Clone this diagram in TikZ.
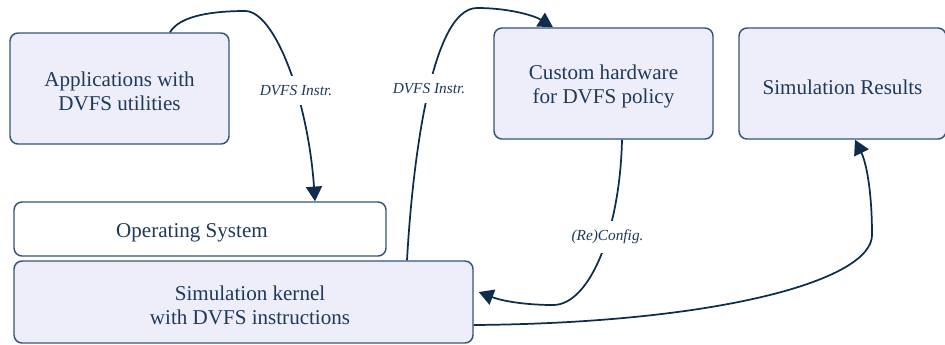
\documentclass[tikz,border=0pt]{standalone}
\usepackage{fontspec}
\setmainfont{Liberation Serif}
\usetikzlibrary{arrows.meta}
\definecolor{boxfill}{HTML}{EEEEFB}
\definecolor{boxdraw}{HTML}{345578}
\definecolor{txt}{HTML}{1E3A5A}
\definecolor{arr}{HTML}{0E2C4C}
\begin{document}
\begin{tikzpicture}[x=0.75pt,y=-0.75pt,
 box/.style={draw=boxdraw, line width=1.1pt, fill=boxfill, rounded corners=6pt, inner sep=0pt},
 plainbox/.style={box, fill=white},
 boxtext/.style={align=center, text=txt, inner sep=0pt, yshift=-2.5pt, font=\fontsize{15.8}{18}\selectfont},
 conn/.style={draw=arr, line width=1.3pt, -{Triangle[length=11pt,width=12pt]}},
 lbl/.style={fill=white, text=txt, font=\fontsize{11.5}{13}\selectfont\itshape, inner xsep=2pt, inner ysep=7pt}]
\useasboundingbox (0,0) rectangle (945,344);
\node[box, minimum width=164.25pt, minimum height=83.25pt, label={[boxtext]center:{Applications with\\DVFS utilities}}] (app) at (119.5,88.5) {};
\node[box, minimum width=164.25pt, minimum height=83.25pt, label={[boxtext]center:{Custom hardware\\for DVFS policy}}] (hw) at (603.5,83.5) {};
\node[box, minimum width=155.25pt, minimum height=83.25pt, label={[boxtext]center:{Simulation Results}}] (res) at (842.5,83.5) {};
\node[plainbox, minimum width=279pt, minimum height=40.5pt, label={[boxtext, xshift=-6pt, yshift=-0.5pt]center:{Operating System}}] (os) at (200,229) {};
\node[box, minimum width=344.25pt, minimum height=61.5pt, label={[boxtext, xshift=4.9pt]center:{Simulation kernel\\with DVFS instructions}}] (kern) at (243.5,302) {};

\draw[conn] (app.north -| 170,0) .. controls (180,15) and (215,11) .. (245,11)
  .. controls (275,11) and (308,100) .. node[lbl, pos=0.6]{DVFS Instr.} (os.north -| 315,0);
\draw[conn] (kern.north -| 407,0) .. controls (412,170) and (430,8) .. node[lbl, pos=0.54]{DVFS Instr.} (477,8)
  .. controls (510,8) and (535,16) .. (hw.north -| 553,0);
\draw[conn] (hw.south -| 622,0) .. controls (620,230) and (590,305) .. node[lbl, pos=0.4]{(Re)Config.} (553,305)
  .. controls (530,305) and (505,302) .. ([shift={(5,-10)}]kern.east);
\draw[conn] (kern.east |- 0,325) .. controls (720,323) and (872,280) .. (872,235)
  .. controls (872,190) and (866,162) .. (res.south -| 855,0);
\end{tikzpicture}
\end{document}
